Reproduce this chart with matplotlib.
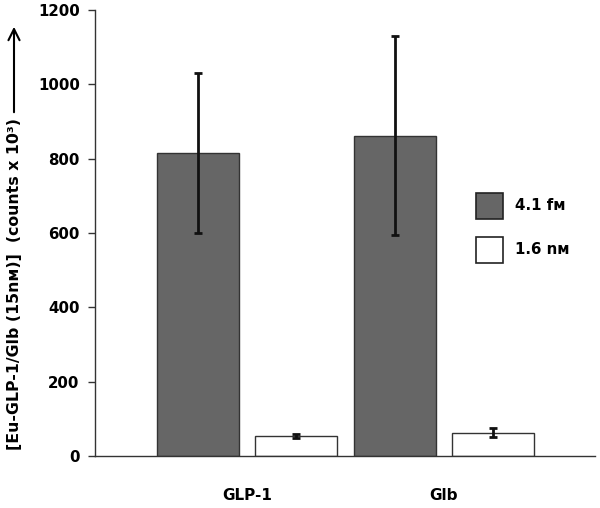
import matplotlib
matplotlib.use("Agg")
import matplotlib.pyplot as plt
from matplotlib.patches import Rectangle
import numpy as np

categories = ["GLP-1", "Glb"]
series_names = ["4.1 fᴍ", "1.6 nᴍ"]
dark_values = [814, 862]
dark_err_low = [215, 267]
dark_err_high = [216, 269]
white_values = [55, 61]
white_err_low = [7, 11]
white_err_high = [5, 13]
yticks = [0, 200, 400, 600, 800, 1000, 1200]
ylabel = "[Eu-GLP-1/Glb (15nᴍ)]  (counts x 10³)"

plt.rcParams['font.family'] = ['DejaVu Sans']
plt.rcParams['font.weight'] = 'bold'

fig = plt.figure(figsize=(6.0, 5.08), dpi=100)
ax = fig.add_axes([95/600, 52/508, 500/600, 446/508])

centers = np.arange(len(categories)) * 2.0
w = 0.83
dark_col = "#666666"
bar_colors = [dark_col, "white"]
ek = dict(ecolor="#111111", elinewidth=2, capsize=3, capthick=2)
ax.bar(centers - 0.5, dark_values, width=w, color=dark_col, edgecolor="#333333", linewidth=1,
       yerr=[dark_err_low, dark_err_high], error_kw=ek, zorder=2)
ax.bar(centers + 0.5, white_values, width=w, color="white", edgecolor="#333333", linewidth=1,
       yerr=[white_err_low, white_err_high], error_kw=ek, zorder=2)

ax.set_xlim(-1.543, 3.533)
ax.set_ylim(0, 1200)
ax.set_yticks(yticks)
ax.set_yticklabels([str(t) for t in yticks], fontsize=10.8, fontweight='bold')
ax.set_xticks(centers)
ax.set_xticklabels(categories, fontsize=11, fontweight='bold')
ax.tick_params(axis='x', length=0, pad=23)
ax.tick_params(axis='y', direction='out', length=5, width=1, color="#333333", pad=6)
for s in ['top', 'right']:
    ax.spines[s].set_visible(False)
for s in ['left', 'bottom']:
    ax.spines[s].set_color("#333333")
    ax.spines[s].set_linewidth(1)

# legend drawn manually in figure pixels
row_tops = [193, 237]
for name, col, top in zip(series_names, bar_colors, row_tops):
    fig.patches.append(Rectangle((476/600, 1 - (top + 26)/508), 27/600, 26/508,
                                 transform=fig.transFigure, facecolor=col,
                                 edgecolor="#222222", linewidth=1.2))
    fig.text(515/600, 1 - (top + 13)/508, name, ha="left", va="center",
             fontsize=10.8, fontweight='bold')

fig.text(15/600, 1 - 284/508, ylabel, rotation=90, ha="center", va="center",
         fontsize=11.3, fontweight='bold')
ax.annotate("", xy=(14/600, 1 - 24/508), xytext=(14/600, 1 - 115/508),
            xycoords="figure fraction", textcoords="figure fraction",
            arrowprops=dict(arrowstyle="->,head_length=0.8,head_width=0.4", lw=1.5, color="black"))

fig.savefig("out.png", dpi=100)
